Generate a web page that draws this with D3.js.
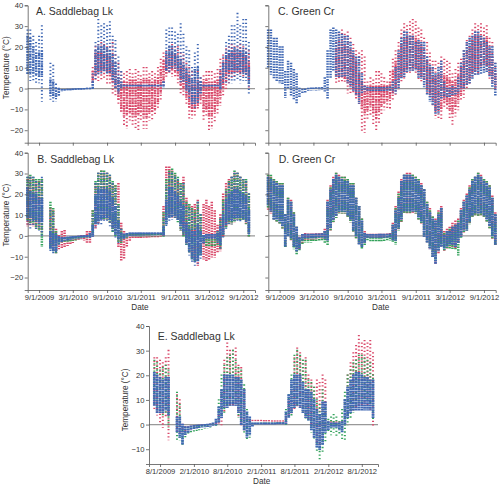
<!DOCTYPE html>
<html><head><meta charset="utf-8">
<style>html,body{margin:0;padding:0;background:#fff}svg{display:block}text{font-family:"Liberation Sans",Arial,sans-serif;fill:#333}.marks{filter:blur(0.35px)}</style>
<script src="https://cdn.jsdelivr.net/npm/d3@7"></script></head><body><div id="c"></div>
<script>
const n=null;
const halfMonths=["2009-07-01","2009-07-16","2009-08-01","2009-08-16","2009-09-01","2009-09-16","2009-10-01","2009-10-16","2009-11-01","2009-11-16","2009-12-01","2009-12-16",
"2010-01-01","2010-01-16","2010-02-01","2010-02-16","2010-03-01","2010-03-16","2010-04-01","2010-04-16","2010-05-01","2010-05-16","2010-06-01","2010-06-16","2010-07-01","2010-07-16","2010-08-01","2010-08-16","2010-09-01","2010-09-16","2010-10-01","2010-10-16","2010-11-01","2010-11-16","2010-12-01","2010-12-16",
"2011-01-01","2011-01-16","2011-02-01","2011-02-16","2011-03-01","2011-03-16","2011-04-01","2011-04-16","2011-05-01","2011-05-16","2011-06-01","2011-06-16","2011-07-01","2011-07-16","2011-08-01","2011-08-16","2011-09-01","2011-09-16","2011-10-01","2011-10-16","2011-11-01","2011-11-16","2011-12-01","2011-12-16",
"2012-01-01","2012-01-16","2012-02-01","2012-02-16","2012-03-01","2012-03-16","2012-04-01","2012-04-16","2012-05-01","2012-05-16","2012-06-01","2012-06-16","2012-07-01","2012-07-16","2012-08-01","2012-08-16","2012-09-01","2012-09-16","2012-10-01","2012-10-16","2012-11-01"];
const ticksSep=["9/1/2009","3/1/2010","9/1/2010","3/1/2011","9/1/2011","3/1/2012","9/1/2012"];
const ticksAug=["8/1/2009","2/1/2010","8/1/2010","2/1/2011","8/1/2011","2/1/2012","8/1/2012"];
const tempTicks=[40,30,20,10,0,-10,-20];
const tempTicksE=[40,30,20,10,0,-10];

// Panel A
const aRedLo=[n,n,n,n,n,n,n,n,n,n,n,n,
n,n,n,n,n,n,n,n,n,n,n,2,4,4,4,5,2,2,-2,-3,-7,-10,-18,-19,
-15,-17,-19,-20,-15,-19,-19,-15,-15,-13,-10,-5,1,5,7,6,6,3,-2,-3,-8,-14,-14,-13,
-10,-8,-15,-13,-20,-19,-16,-12,-8,-3,0,3,5,6,7,6,6,6,0];
const aRedHi=[n,n,n,n,n,n,n,n,n,n,n,n,
n,n,n,n,n,n,n,n,n,n,n,10,20,21,22,21,20,20,22,16,12,8,7,8,
9,7,9,8,6,10,10,7,8,7,10,14,17,18,20,21,20,20,17,16,12,10,8,8,
8,5,6,8,8,8,7,9,14,16,19,20,21,20,20,21,20,19,18];
const aRedCoreLo=[n,n,n,n,n,n,n,n,n,n,n,n,
n,n,n,n,n,n,n,n,n,n,n,3,7,8,9,9,8,6,3,0,-5,-11,-13,-12,
-11,-13,-14,-12,-11,-13,-14,-11,-11,-10,-7,-2,3,7,9,9,8,6,2,0,-4,-9,-11,-10,
-8,-5,-11,-10,-13,-13,-11,-8,-4,0,4,7,8,8,8,8,8,8,4];
const aRedCoreHi=[n,n,n,n,n,n,n,n,n,n,n,n,
n,n,n,n,n,n,n,n,n,n,n,8,17,17,17,16,16,15,12,8,5,3,3,3,
4,4,4,3,3,4,4,4,3,4,5,9,13,15,16,17,16,15,12,11,7,5,3,3,
3,3,3,4,3,3,3,4,8,12,15,16,17,17,17,17,16,15,12];
const aBlueLo=[7,4,4,3,3,-6,n,n,-5,-6,-6,-3,
-1.2,-1,-.9,-.8,-.7,-.6,-.5,-.4,-.3,-.2,-.1,0,5,7,7,8,7,7,3,0,-2,.8,1,1,
1,1,1,1,1,1,1,1,1,1,1,1,1,8,8,10,10,8,3,3,-2,-5,-8,-9,
-7,-3,1,1,1,1,1,1,0,3,3,3,3,4,4,3,4,4,-2];
const aBlueHi=[28,28,25,22,25,30,n,n,12,11,2,0,
-.6,-.6,-.5,-.5,-.4,-.3,-.2,-.2,-.1,0,0,7,22,33,30,31,30,32,25,23,15,8,1.4,1.4,
1.4,1.4,1.4,1.4,1.4,1.4,1.4,1.4,1.4,1.4,1.4,1.4,3,28,29,29,27,26,31,26,20,18,10,17,
21,5,1.4,1.4,1.4,1.4,1.4,1.4,9,15,22,25,30,30,36,30,33,33,22];
const aBlueCoreLo=[7,7,7,7,6,6,n,n,-3,-4,-4,-3,
-1.2,-1,-.9,-.8,-.7,-.6,-.5,-.4,-.3,-.2,-.1,0,7,8,9,9,8,8,5,1,-1,.8,1,1,
1,1,1,1,1,1,1,1,1,1,1,1,1,9,10,11,11,9,5,4,0,-2,-7,-7,
-6,-2,1,1,1,1,1,1,0,5,8,9,9,9,9,9,8,7,2];
const aBlueCoreHi=[25,24,20,17,17,18,n,n,4,3,0,-.5,
-.6,-.6,-.5,-.5,-.4,-.3,-.2,-.2,-.1,0,0,3,18,20,20,20,19,18,16,12,5,3,1.4,1.4,
1.4,1.4,1.4,1.4,1.4,1.4,1.4,1.4,1.4,1.4,1.4,1.4,3,17,20,20,18,15,14,11,9,6,4,9,
10,3,1.4,1.4,1.4,1.4,1.4,1.4,5,12,17,18,18,19,18,18,18,17,10];

// Panel B
const bRedLo=[5,5,5,4,3,2,n,n,-5,-7,-8,-6,
-6,-5,-4.5,-4,-3,-2,-1.5,-1,-2,-3,-3,0,4,6,8,8,8,7,3,1,-5,-12,-11,-5,
-2,-1,-1,-.8,-.6,-.5,-.5,-.4,-.3,-.2,-.2,0,0,10,10,9,9,8,3,0,-4,-8,-10,-12,
-14,-8,-11,-12,-11,-10,-10,-8,-7,0,5,6,6,7,8,8,8,6,0];
const bRedHi=[27,28,27,26,26,27,n,n,13,12,3,0,
2,2.5,-1,-1,-.8,-.5,-.3,0,0,2,2,12,25,30,31,30,30,28,25,24,25,6,2,-1,
.5,.6,.6,.6,.6,.6,.7,.7,.8,.8,.8,1,14,33,33,31,29,26,25,28,18,15,14,15,
17,10,15,17,14,16,12,5,10,20,25,27,28,30,30,28,27,26,20];
const bGreenLo=[8,6,6,4,3,-5,n,n,-6,-7,-8,-4,
-3,-2.5,-2.5,-2.2,-2,-1.8,-1.5,-1.2,-1,-.8,-.6,1,6,7,8,8,8,6,2,0,-3,-3,-1,-.5,
0,0,0,0,0,.1,.1,.1,.1,.2,.2,.2,0,6,9,9,9,7,3,0,-4,-8,-11,-12,
-12,-9,-3,-5,-5,-5,-5,-4,-6,0,4,6,6,7,8,8,8,6,0];
const bGreenHi=[28,29,28,27,27,27,n,n,16,13,2,-1,
-1.5,-1.2,-1.2,-1,-1,-.9,-.8,-.6,-.5,-.3,0,12,26,30,31,31,30,29,26,24,15,3,.3,.5,
.5,.6,.6,.6,.7,.7,.7,.7,.8,.8,.8,.8,11,27,31,32,30,28,25,25,16,15,13,12,
16,10,-1,-2,-2,-2,-2,2,8,17,22,26,28,31,30,28,27,27,20];
const bBlueLo=[6,4,5,3,3,0,n,n,-8,-8,-8,-4,
-2.5,-2,-1.8,-1.5,-1.2,-1,-.8,-.7,-.6,-.5,-.5,0,4,5,6,7,7,5,2,-1,-3,-2,-1,0,
.5,.5,.5,.6,.6,.6,.7,.7,.7,.7,.8,.8,.5,4,7,8,8,7,3,0,-4,-9,-13,-14,
-13,-11,-4,-1,-1,-1,-1,-3,-6,-1,3,6,6,7,7,7,7,6,0];
const bBlueHi=[28,28,28,26,25,28,n,n,12,11,1,-.5,
-1,-1,-.8,-.7,-.5,-.4,-.3,-.2,-.1,0,1,10,25,30,30,30,30,29,25,22,14,3,.7,1,
1.2,1.2,1.2,1.2,1.2,1.2,1.2,1.2,1.2,1.2,1.2,1.2,8,24,30,30,28,27,24,25,15,13,12,10,
16,10,0,.5,.5,.5,.5,2,8,15,21,25,28,30,30,28,27,26,20];
const bBlueCoreLo=[9,9,8,8,7,7,n,n,-6,-7,-7,-3,
-2.5,-2,-1.8,-1.5,-1.2,-1,-.8,-.7,-.6,-.5,-.5,0,6,7,8,9,9,8,4,1,-1,-1,-1,0,
.5,.5,.5,.6,.6,.6,.7,.7,.7,.7,.8,.8,.5,6,9,10,10,8,5,2,-3,-7,-11,-12,
-12,-9,-3,-1,-1,-1,-1,-2,-4,1,6,8,8,9,9,9,9,8,2];
const bBlueCoreHi=[23,21,20,20,18,18,n,n,2,1,0,-.5,
-1,-1,-.8,-.7,-.5,-.4,-.3,-.2,-.1,0,1,5,19,22,22,22,22,21,18,14,7,1,.7,1,
1.2,1.2,1.2,1.2,1.2,1.2,1.2,1.2,1.2,1.2,1.2,1.2,4,17,23,23,21,19,16,14,6,3,2,2,
5,2,0,.5,.5,.5,.5,1,4,10,17,20,21,22,22,21,20,19,12];

// Panel C
const cRedLo=[n,n,n,n,n,n,n,n,n,n,n,n,
n,n,n,n,n,n,n,n,n,n,n,n,3,3,3,3,-2,-2,-2,-5,-7,-20,-21,-15,
-13,-17,-20,-16,-12,-10,-9,-10,-5,-3,0,3,5,8,8,8,8,4,3,2,-2,-4,-8,-14,
-14,-15,-9,-10,-14,-17,-13,-10,-6,-4,0,2,6,7,7,9,9,9,5,2,-1];
const cRedHi=[n,n,n,n,n,n,n,n,n,n,n,n,
n,n,n,n,n,n,n,n,n,n,n,n,22,26,28,26,27,24,21,18,17,18,15,3,
5,4,8,8,7,5,3,8,14,18,22,28,31,30,32,33,32,29,28,24,22,17,13,13,
12,15,14,13,12,7,9,12,14,18,23,25,28,31,30,31,29,30,24,22,12];
const cRedCoreLo=[n,n,n,n,n,n,n,n,n,n,n,n,
n,n,n,n,n,n,n,n,n,n,n,n,6,6,6,5,3,2,0,-3,-4,-10,-12,-10,
-8,-12,-14,-11,-8,-7,-6,-5,-2,0,3,6,8,10,10,10,10,7,6,4,0,-2,-5,-10,
-10,-10,-6,-7,-10,-12,-9,-6,-3,0,3,5,8,9,10,11,11,11,7,4,1];
const cRedCoreHi=[n,n,n,n,n,n,n,n,n,n,n,n,
n,n,n,n,n,n,n,n,n,n,n,n,19,21,22,21,20,18,15,12,7,3,1,0,
1,1,1,1,1,1,1,3,8,13,17,21,23,24,25,25,24,22,20,17,13,9,6,5,
6,8,6,5,4,3,4,6,10,14,17,20,23,25,25,25,24,24,19,15,7];
const cBlueLo=[10,7,5,4,3,2,-4,0,-3,-5,-7,-4,
-2,-1.5,-.8,-.7,-.6,-.5,-.4,-.3,-1,-5,5,9,6,6,6,6,3,1,-1,-3,-7,-2,-1,-1,
-1,-1,-1,-1,-1,-1,-1,-.8,-1.5,-2,0,5,6,8,9,9,9,5,5,1,-3,-6,-8,-12,
-12,-5,-4,-4,-4,-3,-3,-2,0,0,2,3,5,7,7,7,8,8,6,1,-3];
const cBlueHi=[28,28,24,24,20,20,8,13,12,9,7,0,
-.5,-.3,0,.1,.1,.2,.3,.4,5,18,28,29,28,27,26,25,25,22,18,15,15,7,1,.5,
.4,.4,.4,.4,.4,.4,.5,.6,3,10,18,24,27,27,25,25,22,23,22,22,15,11,10,7,
10,13,3,0,0,1,0,5,12,18,22,24,25,27,27,25,24,22,20,20,12];

// Panel D
const dRedLo=[13,11,8,7,6,4,-5,0,-2,-5,-7,-6,
-3,-2,-1.5,-1.5,-1.5,-1.2,-1,-1,-1,-2,3,7,9,11,11,11,9,7,2,-1,-4,-5,-3,-1,
-1,-1,-1,-.8,-.8,-.8,-.6,-.5,-2,-2,3,7,11,11,11,11,11,8,6,0,-3,-6,-10,-13,
-8,-5,-7,-6,-5,-5,-6,-3,0,2,3,6,9,10,10,10,9,7,4,-1,-4];
const dRedHi=[29,28,27,26,25,25,10,18,17,11,4,-1,
.5,1,.8,.8,.8,.9,.9,1,3,17,24,28,30,29,28,28,27,25,25,18,14,8,2,.7,
.6,.6,.6,.7,.7,.7,.8,1,6,14,21,27,29,30,30,29,28,27,25,22,16,13,9,8,
12,14,2,3,4,6,7,8,13,17,20,24,27,28,30,29,27,26,24,19,11];
const dGreenLo=[14,12,8,7,6,4,-5,0,-2,-6,-9,-7,
-3.5,-3,-3,-2.8,-2.6,-2.4,-2.2,-2.2,-3,-4,3,7,9,11,11,11,9,7,2,-1,-4,-6,-4,-2,
-2.2,-2.4,-2.5,-2.5,-2.4,-2.2,-2.2,-2,-3,-4,3,7,11,11,11,12,11,8,6,0,-3,-6,-10,-12,
-7,-5,-7,-6,-6,-6,-6,-9,-1,2,3,6,9,10,10,10,9,7,4,-1,-4];
const dGreenHi=[29,29,27,26,25,25,10,18,16,11,4,-1.5,
-1,-1,-1,-.8,-.8,-.8,-.6,-.5,2,16,23,27,30,28,28,28,27,25,25,18,14,8,1,-.5,
-1,-1,-1,-1,-1,-.8,-.5,0,5,13,20,26,29,29,29,29,28,27,24,22,16,12,9,7,
11,13,1,2,3,4,5,7,12,16,19,23,27,28,30,28,27,26,24,18,10];
const dBlueLo=[15,12,8,8,7,5,-5,0,-1,-5,-7,-6,
-2,-1,-1,-.9,-.8,-.7,-.6,-.5,-1,-2,4,8,10,12,12,12,10,8,3,0,-4,-5,-3,-.5,
-.5,-.5,-.5,-.5,-.5,-.5,-.4,-.4,-2,-2,4,8,12,12,12,12,12,9,7,0,-3,-6,-10,-13,
-7,-5,-6,-5,-4,-4,-5,-3,0,3,3,7,10,11,11,11,10,8,5,0,-4];
const dBlueHi=[28,27,26,25,24,24,10,17,16,10,4,-1,
.5,.6,.6,.7,.7,.8,.8,.9,2,16,22,27,29,28,27,26,26,24,24,18,14,7,1,.5,
.5,.5,.5,.6,.6,.6,.7,.8,5,12,18,26,29,29,29,28,27,26,24,22,15,11,8,7,
10,13,0,2,2,4,5,6,12,16,19,22,26,28,29,28,26,25,23,18,10];

// Panel E
const eRedLo=[6,4,1,-1,3,-6,n,n,-3,-3,-3,-2.5,
-2,-1.8,-1.5,-1.2,-1,-.8,-.6,-.4,-.2,-.1,0,0,0,5,8,8,8,8,3,0,-2,.5,1,1,
1,1,1,1,1,1,1,1,1,1,1,1,4,4,6,7,7,5,3,2,0,-3,-8,-9,
-7,-3,.5,.5,.5,.5,.5,.5,1,4,6,6,7,8,8,7,8,6,-1];
const eRedHi=[27,27,26,25,27,30,n,n,12,10,0,-1,
-1,-.8,-.7,-.5,-.4,-.3,-.2,-.1,.1,.2,.5,5,13,26,33,30,30,31,24,23,14,3,1.6,1.6,
1.6,1.6,1.6,1.5,1.5,1.5,1.4,1.4,1.4,1.4,1.4,4,10,15,27,31,29,26,27,20,18,15,18,17,
20,18,1,1,1,1,1,1,10,20,25,29,32,36,33,34,33,34,29];
const eGreenLo=[8,6,5,4,5,-1,n,n,-6,-6,-8,-5,
-3.5,-3,-2.5,-2.3,-2,-1.8,-1.5,-1.2,-1,-.6,-.2,1,3,5,8,8,9,8,3,0,-3,-6,-5,0,
0,0,0,0,0,0,.1,.1,.1,.1,.2,.2,3,4,7,8,8,5,2,2,-3,-6,-11,-14,
-11,-7,-3,-4,-3,-5,-4,-6,-6,0,3,5,8,9,9,10,9,8,2];
const eGreenHi=[26,25,22,23,24,22,n,n,13,8,-1,-2,
-2,-1.5,-1.2,-1,-.8,-.7,-.5,-.3,0,.2,1,10,20,24,27,28,30,26,23,22,16,6,2,.4,
.4,.4,.5,.5,.5,.5,.5,.5,.6,.6,.6,6,12,20,28,30,28,26,26,18,17,15,10,8,
14,8,2,3,4,3,1,6,13,20,22,25,26,28,28,27,26,25,20];
const eBlueLo=[8,5,5,5,6,4,n,n,-3,-5,-8,-4,
-3,-2,-1.5,-1.3,-1.1,-.9,-.8,-.7,-.6,-.2,0,1,3,7,7,8,8,8,5,0,-2,-5,-4,-.5,
.2,.2,.2,.2,.2,.2,.2,.2,.3,.3,.3,.5,3,5,7,8,7,5,3,2,-2,-5,-9,-10,
-8,-3,-2,-1,-1,-1,-2,-3,0,3,5,6,6,6,6,6,6,6,3];
const eBlueHi=[21,20,19,18,19,19,n,n,3,3,0,-1,
-1,-.7,-.5,-.4,-.3,-.2,-.1,0,.1,.5,2,7,14,20,20,20,20,19,19,18,14,5,3,.5,
.5,.5,.5,.5,.5,.5,.5,.5,.6,.6,.6,5,12,18,20,20,20,17,14,14,13,10,6,4,
9,9,1,.5,.5,.5,.5,1,10,15,18,20,21,21,20,19,19,18,18];

const BLUE="#4068b4",RED="#d9496a",GREEN="#35a35c";
const STY={sparse:{w:2,d:"1.3 2.3"},core:{w:2.8,d:"1.8 0.5"},mid:{w:2.5,d:"1.5 1.1"}};
const W=500,H=488;
const svg=d3.select("#c").append("svg").attr("width",W).attr("height",H);
const parseDay=d3.utcParse("%Y-%m-%d"),parseTick=d3.utcParse("%-m/%-d/%Y"),fmtTick=d3.utcFormat("%-m/%-d/%Y");
const cols=halfMonths.map(parseDay);

const panels=[
 {title:"A. Saddlebag Lk",tx:36,ty:15,x0:27.7,x1:255,dom:["2009-07-02","2012-11-03"],y0:5.3,y1:142.7,ydom:[-26,40],ticks:ticksSep,yt:tempTicks,xlabels:false,ylabel:8.5,
  marks:[[aRedLo,aRedHi,RED,"sparse"],[aRedCoreLo,aRedCoreHi,RED,"mid"],[aBlueLo,aBlueHi,BLUE,"sparse"],[aBlueCoreLo,aBlueCoreHi,BLUE,"mid"]]},
 {title:"B. Saddlebag Lk",tx:37.3,ty:162.7,x0:27.7,x1:255,dom:["2009-07-02","2012-11-03"],y0:152.7,y1:290,ydom:[-26,40],ticks:ticksSep,yt:tempTicks,xlabels:true,ylabel:8.5,date:[140,310],
  marks:[[bRedLo,bRedHi,RED,"mid"],[bGreenLo,bGreenHi,GREEN,"mid"],[bBlueLo,bBlueHi,BLUE,"sparse"],[bBlueCoreLo,bBlueCoreHi,BLUE,"core"]]},
 {title:"C. Green Cr",tx:278,ty:15,x0:268.3,x1:495.7,dom:["2009-07-02","2012-11-03"],y0:5.3,y1:142.7,ydom:[-26,40],ticks:ticksSep,yt:tempTicks,xlabels:false,
  marks:[[cRedLo,cRedHi,RED,"sparse"],[cRedCoreLo,cRedCoreHi,RED,"mid"],[cBlueLo,cBlueHi,BLUE,"mid"]]},
 {title:"D. Green Cr",tx:278.7,ty:162.7,x0:268.3,x1:495.7,dom:["2009-07-02","2012-11-03"],y0:152.7,y1:290,ydom:[-26,40],ticks:ticksSep,yt:tempTicks,xlabels:true,date:[380.7,310],
  marks:[[dRedLo,dRedHi,RED,"mid"],[dGreenLo,dGreenHi,GREEN,"mid"],[dBlueLo,dBlueHi,BLUE,"core"]]},
 {title:"E. Saddlebag Lk",tx:157.7,ty:340,x0:149,x1:378,dom:["2009-06-02","2012-10-28"],y0:326,y1:464,ydom:[-16,40],ticks:ticksAug,yt:tempTicksE,xlabels:true,ylabel:127.5,date:[261.7,484],
  marks:[[eRedLo,eRedHi,RED,"sparse"],[eGreenLo,eGreenHi,GREEN,"sparse"],[eBlueLo,eBlueHi,BLUE,"core"]]}
];

panels.forEach(p=>{
 const x=d3.scaleUtc().domain(p.dom.map(parseDay)).range([p.x0,p.x1]);
 const y=d3.scaleLinear().domain(p.ydom).range([p.y1,p.y0]);
 const g=svg.append("g");
 g.append("line").attr("x1",p.x0).attr("x2",p.x1).attr("y1",y(0)).attr("y2",y(0)).attr("stroke","#999").attr("stroke-width",1.3);
 const m=g.append("g").attr("class","marks");
 p.marks.forEach(([lo,hi,color,sty])=>{
  const rows=cols.map((d,i)=>({d,lo:lo[i],hi:hi[i]})).filter(r=>r.lo!=null&&r.hi!=null);
  m.append("g").attr("stroke",color).attr("stroke-width",STY[sty].w).attr("stroke-dasharray",STY[sty].d)
   .selectAll("line").data(rows).join("line")
   .attr("x1",r=>x(r.d)).attr("x2",r=>x(r.d))
   .attr("y1",r=>y(r.hi)-.8).attr("y2",r=>y(r.lo)+.8);
 });
 const xa=d3.axisBottom(x).tickValues(p.ticks.map(parseTick)).tickSize(3).tickPadding(2)
   .tickFormat(p.xlabels?fmtTick:()=>"");
 const ya=d3.axisLeft(y).tickValues(p.yt).tickSize(3).tickPadding(1.5)
   .tickFormat(p.ylabel?d3.format("d"):()=>"");
 const gx=g.append("g").attr("transform",`translate(0,${p.y1})`).call(xa);
 const gy=g.append("g").attr("transform",`translate(${p.x0},0)`).call(ya);
 [gx,gy].forEach(a=>{
  a.selectAll("path").attr("stroke","#555").attr("stroke-width",.8);
  a.selectAll("line").attr("stroke","#555").attr("stroke-width",.8);
  a.selectAll("text").style("font-size","7.6px").style("font-family",'"Liberation Sans",Arial,sans-serif').attr("fill","#333");
 });
 g.append("text").attr("x",p.tx).attr("y",p.ty).style("font-size","10.5px").text(p.title);
 if(p.ylabel) g.append("text").attr("transform",`translate(${p.ylabel},${(y(28)+y(-8))/2}) rotate(-90)`)
   .attr("text-anchor","middle").style("font-size","8.2px").text("Temperature (°C)");
 if(p.date) g.append("text").attr("x",p.date[0]).attr("y",p.date[1]).attr("text-anchor","middle").style("font-size","8.2px").text("Date");
});
</script></body></html>
